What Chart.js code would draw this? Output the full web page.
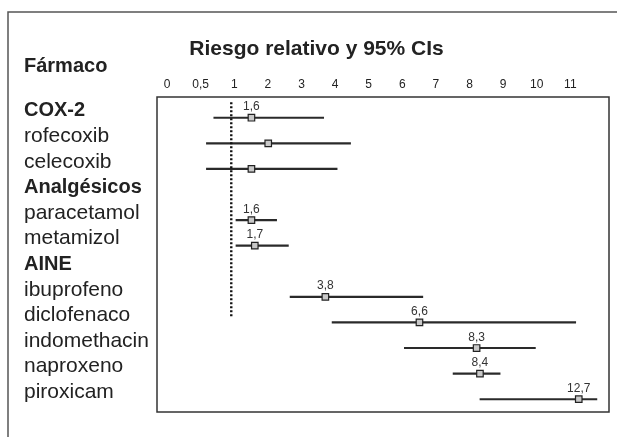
<!DOCTYPE html>
<html>
<head>
<meta charset="utf-8">
<script src="https://cdn.jsdelivr.net/npm/chart.js@4/dist/chart.umd.min.js"></script>
<style>
  html, body { margin: 0; padding: 0; background: #fff; }
</style>
</head>
<body>
<canvas id="forestChart" width="617" height="437"></canvas>
<script>
// rows of the forest plot, top to bottom
const drugs = ['COX-2', 'rofecoxib', 'celecoxib', 'Analgésicos', 'paracetamol', 'metamizol', 'AINE',
    'ibuprofeno', 'diclofenaco', 'indomethacin', 'naproxeno', 'piroxicam'];
const isGroup = [true, false, false, true, false, false, true, false, false, false, false, false];

// relative risk and 95% CI (null = group header with no estimate)
const riskRatio = [1.6, 2.1, 1.6, null, 1.6, 1.7, null, 3.8, 6.6, 8.3, 8.4, 12.7];
const ciLower = [0.74, 0.63, 0.63, null, 1.14, 1.14, null, 2.75, 4.0, 6.15, 7.6, 8.4];
const ciUpper = [3.75, 4.55, 4.15, null, 2.35, 2.7, null, 6.7, 12.25, 10.05, 9.0, 15.4];
const riskLabels = ['1,6', '', '', '', '1,6', '1,7', '', '3,8', '6,6', '8,3', '8,4', '12,7'];

// labels printed along the top of the box
const tickLabels = ['0', '0,5', '1', '2', '3', '4', '5', '6', '7', '8', '9', '10', '11'];

// no-effect line (RR = 1), runs from above the first row down to just above diclofenaco
const refValue = 1;
const refFromRow = -0.6;
const refToRow = 7.8;

const FONT = "'Liberation Sans', Arial, Helvetica, sans-serif";
const INK = '#222';

// the printed axis is not linear: 0-1 takes two steps, 1-11 one step per unit,
// and anything past 11 is squeezed into the margin
function toAxis(v) {
    if (v <= 1) return v * 2;
    if (v <= 11) return v + 1;
    return 12 + (v - 11) * 0.2;
}

const rowsWithData = drugs.map((d, i) => i).filter(i => riskRatio[i] !== null);

const ciData = rowsWithData.map(i => ({ y: i, x: [toAxis(ciLower[i]), toAxis(ciUpper[i])] }));
const pointData = rowsWithData.map(i => ({ x: toAxis(riskRatio[i]), y: i }));
const refData = [{ x: toAxis(refValue), y: refFromRow }, { x: toAxis(refValue), y: refToRow }];

Chart.defaults.font.family = FONT;
Chart.defaults.color = INK;

// white background, outer frame and the box round the plot
const framePlugin = {
    id: 'frame',
    beforeDraw(chart) {
        const ctx = chart.ctx;
        ctx.save();
        ctx.fillStyle = '#fff';
        ctx.fillRect(0, 0, chart.width, chart.height);
        ctx.strokeStyle = '#555';
        ctx.lineWidth = 1.5;
        ctx.beginPath();
        ctx.moveTo(8, chart.height);
        ctx.lineTo(8, 12);
        ctx.lineTo(chart.width, 12);
        ctx.stroke();
        ctx.restore();
    },
    afterDraw(chart) {
        const a = chart.chartArea;
        const ctx = chart.ctx;
        ctx.save();
        ctx.strokeStyle = '#333';
        ctx.lineWidth = 1.5;
        ctx.strokeRect(a.left, a.top, a.right - a.left, a.bottom - a.top);
        ctx.restore();
    }
};

// value printed above each square
const valueLabels = {
    id: 'valueLabels',
    afterDatasetsDraw(chart) {
        const meta = chart.getDatasetMeta(2);
        const ctx = chart.ctx;
        ctx.save();
        ctx.font = '12px ' + FONT;
        ctx.fillStyle = '#333';
        ctx.textAlign = 'center';
        ctx.textBaseline = 'alphabetic';
        meta.data.forEach((pt, j) => {
            const text = riskLabels[rowsWithData[j]];
            if (text) ctx.fillText(text, pt.x, pt.y - 7.5);
        });
        ctx.restore();
    }
};

new Chart(document.getElementById('forestChart'), {
    type: 'scatter',
    data: {
        datasets: [
            {
                type: 'bar',
                label: 'IC 95%',
                indexAxis: 'y',
                data: ciData,
                backgroundColor: '#2a2a2a',
                borderWidth: 0,
                barThickness: 1.5,
                order: 2
            },
            {
                type: 'line',
                label: 'RR = 1',
                data: refData,
                borderColor: '#111',
                borderWidth: 2.4,
                borderDash: [2, 2],
                pointRadius: 0,
                fill: false,
                order: 1
            },
            {
                type: 'scatter',
                label: 'Riesgo relativo',
                data: pointData,
                pointStyle: 'rect',
                pointRadius: 4.6,
                backgroundColor: '#c8c8c8',
                borderColor: INK,
                borderWidth: 1.2,
                order: 0
            }
        ]
    },
    options: {
        responsive: false,
        animation: false,
        devicePixelRatio: 1,
        layout: { padding: { left: 24, right: 8, top: 0, bottom: 25 } },
        plugins: {
            legend: { display: false },
            tooltip: { enabled: false },
            title: {
                display: true,
                text: 'Riesgo relativo y 95% CIs',
                color: INK,
                font: { size: 21, weight: 'bold', lineHeight: 1 },
                padding: { top: 38.9, bottom: -3.2 }
            },
            subtitle: {
                display: true,
                text: 'Fármaco',
                align: 'start',
                color: INK,
                font: { size: 20, weight: 'bold', lineHeight: 1 },
                padding: { top: 0, bottom: 0 }
            }
        },
        scales: {
            x: {
                type: 'linear',
                position: 'top',
                min: -0.21,
                max: 13.24,
                offset: false,
                grid: { display: false, drawTicks: false },
                border: { display: false },
                afterBuildTicks: s => { s.ticks = tickLabels.map((t, i) => ({ value: i })); },
                afterFit: s => { s.height = 20.3; },
                ticks: {
                    padding: 5,
                    labelOffset: 3,
                    autoSkip: false,
                    maxRotation: 0,
                    color: INK,
                    font: { size: 12 },
                    callback: v => tickLabels[v]
                }
            },
            y: {
                type: 'linear',
                reverse: true,
                min: -0.81,
                max: 11.5,
                offset: false,
                grid: { display: false, drawTicks: false },
                border: { display: false },
                afterBuildTicks: s => { s.ticks = drugs.map((d, i) => ({ value: i })); },
                afterFit: s => { s.width = 133; },
                ticks: {
                    crossAlign: 'far',
                    padding: 0,
                    labelOffset: -7,
                    autoSkip: false,
                    color: INK,
                    font: ctx => isGroup[ctx.index]
                        ? { size: 20, weight: 'bold' }
                        : { size: 21, weight: 'normal' },
                    callback: v => drugs[v]
                }
            }
        }
    },
    plugins: [framePlugin, valueLabels]
});
</script>
</body>
</html>
